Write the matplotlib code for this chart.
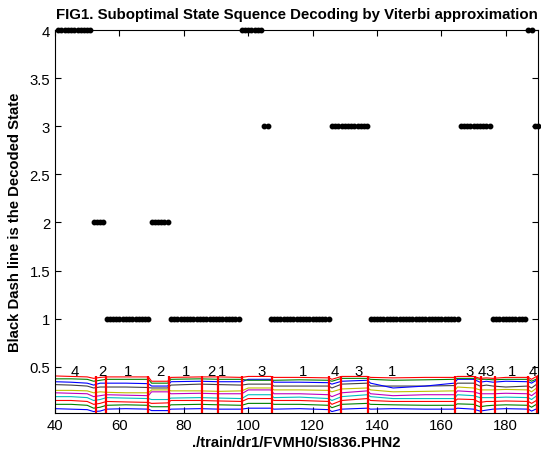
import numpy as np
import matplotlib
matplotlib.use('Agg')
import matplotlib.pyplot as plt

plt.rcParams['font.family'] = ['Liberation Sans', 'DejaVu Sans']

# decoded state segments: (first frame, last frame, state)
state_segments = [
    (41, 51, 4), (52, 55, 2), (56, 69, 1), (70, 75, 2), (76, 97, 1),
    (98, 104, 4), (105, 106, 3), (107, 125, 1), (126, 137, 3),
    (138, 165, 1), (166, 175, 3), (176, 186, 1), (187, 188, 4), (189, 190, 3),
]

# phone boundaries (red lines) and labels
boundaries = [52.6, 55.8, 69.0, 75.5, 85.6, 90.7, 98.0, 107.5, 125.1, 128.7,
              137.3, 164.2, 170.4, 172.4, 176.6, 187.0, 189.6]
label_text = ['4', '2', '1', '2', '1', '2', '1', '3', '1', '4', '3', '1',
              '3', '4', '3', '1', '4']
label_x = [46.2, 54.8, 62.6, 72.8, 80.7, 88.7, 91.8, 104.0, 117.1, 127.0,
           134.4, 144.6, 168.6, 172.5, 175.1, 182.0, 188.5]

# feature traces (bottom to top), sampled at knots
knots = [40, 45, 50, 52, 54, 56, 62, 69, 70, 75, 76, 85, 91, 98, 100, 107, 108,
         116, 125, 126, 129, 137, 138, 145, 155, 164, 165, 170, 172, 174, 176,
         180, 187, 188, 190]
feat1 = [.065, .06, .055, .035, .04, .06, .065, .06, .045, .045, .06, .065, .06, .06, .07, .07, .06,
         .065, .055, .035, .06, .07, .06, .065, .06, .06, .07, .06, .04, .05, .06, .065, .06, .04, .07]
feat2 = [.11, .11, .10, .07, .08, .10, .105, .10, .085, .085, .105, .11, .105, .10, .12, .12, .11,
         .11, .10, .075, .11, .12, .11, .105, .10, .10, .115, .11, .085, .095, .10, .105, .10, .08, .12]
feat3 = [.15, .15, .14, .11, .12, .14, .135, .13, .12, .125, .15, .15, .145, .14, .17, .17, .15,
         .15, .14, .11, .15, .17, .15, .14, .14, .14, .165, .16, .13, .14, .14, .145, .14, .12, .16]
feat4 = [.19, .19, .18, .15, .16, .18, .175, .17, .16, .16, .175, .18, .175, .17, .21, .21, .18,
         .185, .17, .15, .19, .21, .19, .17, .17, .17, .21, .20, .18, .18, .18, .185, .18, .16, .21]
feat5 = [.23, .225, .22, .19, .20, .21, .205, .20, .24, .24, .22, .225, .22, .22, .26, .26, .22,
         .22, .21, .19, .23, .25, .22, .20, .21, .21, .25, .24, .22, .22, .22, .225, .22, .20, .25]
feat6 = [.255, .255, .25, .23, .24, .235, .23, .23, .26, .26, .25, .25, .245, .25, .28, .28, .26,
         .26, .255, .24, .27, .28, .26, .24, .245, .25, .29, .28, .26, .26, .26, .265, .26, .24, .29]
feat7 = [.315, .31, .30, .28, .29, .29, .29, .285, .28, .28, .31, .32, .315, .31, .32, .32, .30,
         .30, .30, .28, .32, .33, .30, .30, .30, .305, .33, .33, .30, .31, .30, .29, .30, .28, .33]
feat8 = [.345, .34, .33, .31, .33, .33, .33, .325, .30, .30, .345, .35, .345, .345, .37, .37, .34,
         .34, .335, .32, .35, .36, .33, .28, .30, .33, .37, .37, .34, .35, .34, .35, .345, .33, .37]
feat9 = [.375, .375, .37, .35, .36, .37, .37, .37, .33, .33, .37, .375, .37, .37, .36, .36, .36,
         .365, .36, .35, .38, .38, .37, .36, .365, .37, .38, .38, .37, .37, .365, .37, .37, .35, .38]
feat10 = [.405, .40, .395, .38, .39, .395, .395, .395, .35, .35, .39, .395, .395, .39, .40, .40, .39,
          .39, .385, .37, .40, .40, .39, .385, .39, .39, .40, .40, .38, .385, .38, .39, .39, .37, .41]
features = [feat1, feat2, feat3, feat4, feat5, feat6, feat7, feat8, feat9, feat10]

# matlab default colour order
matlab_colors = [(0, 0, 1), (0, 0.5, 0), (1, 0, 0), (0, 0.75, 0.75),
                 (0.75, 0, 0.75), (0.75, 0.75, 0), (0.25, 0.25, 0.25)]

fig = plt.figure(figsize=(5.41, 4.56), dpi=100)
ax = fig.add_axes([55 / 541, 42 / 456, 483 / 541, 383 / 456])

for i, f in enumerate(features):
    ax.plot(knots, f, color=matlab_colors[i % 7], linewidth=0.8)

ax.vlines(boundaries, 0, 0.40, colors='red', linewidth=1.6)

for t, x in zip(label_text, label_x):
    ax.text(x, 0.46, t, ha='center', va='center', fontsize=10.7)

frames = []
states = []
for a, b, s in state_segments:
    for k in range(a, b + 1):
        frames.append(k)
        states.append(s)
ax.plot(frames, states, 'o', color='black', markersize=3.2, clip_on=False)

ax.set_xlim(40, 190)
ax.set_ylim(0.02, 4)
ax.set_xticks(range(40, 181, 20))
ax.set_yticks([0.5, 1, 1.5, 2, 2.5, 3, 3.5, 4])
ax.set_yticklabels(['0.5', '1', '1.5', '2', '2.5', '3', '3.5', '4'])
ax.tick_params(direction='in', top=True, right=True, length=4, labelsize=10.7, width=0.8)
for sp in ax.spines.values():
    sp.set_linewidth(0.8)

ax.set_title('FIG1. Suboptimal State Squence Decoding by Viterbi approximation',
             fontsize=10.8, fontweight='bold', pad=9)
ax.set_xlabel('./train/dr1/FVMH0/SI836.PHN2', fontsize=10.7, fontweight='bold', labelpad=2)
ax.set_ylabel('Black Dash line is the Decoded State', fontsize=10.7, fontweight='bold', labelpad=5)

fig.savefig('out.png', dpi=100)
